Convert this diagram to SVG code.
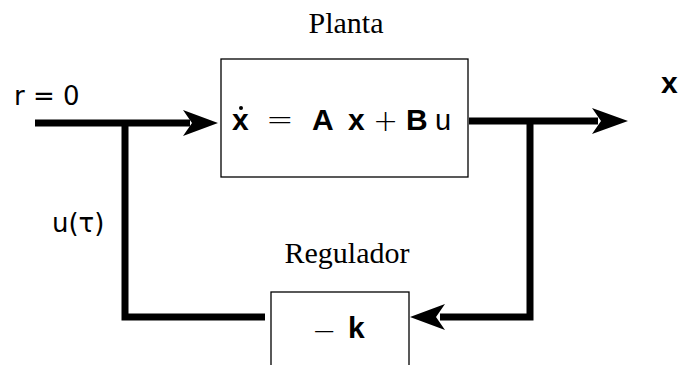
<svg xmlns="http://www.w3.org/2000/svg" width="678" height="365" viewBox="0 0 678 365">
<style>
.box{fill:#fff;stroke:#000;stroke-width:1.3}
.wire{fill:none;stroke:#000;stroke-width:7;stroke-linecap:butt;stroke-linejoin:miter}
.head{fill:#000}
.serif{font-family:"Liberation Serif","Times New Roman",serif;font-size:30px;fill:#000}
.sans{font-family:"DejaVu Sans",sans-serif;font-size:26px;fill:#000}
.bold{font-family:"Liberation Sans",Arial,sans-serif;font-weight:bold;font-size:30px;fill:#000}
.reg{font-family:"Liberation Sans",Arial,sans-serif;font-size:29px;fill:#000}
.math{font-family:"DejaVu Sans",sans-serif;font-weight:200;fill:#000}
</style>
<rect width="678" height="365" fill="#fff"/>
<g id="connectors">
<polyline class="wire" points="35,123 190,123"/>
<polyline class="wire" points="125,123 125,317 265,317"/>
<polyline class="wire" points="469,121 598,121"/>
<polyline class="wire" points="530,121 530,317 440,317"/>
<polygon class="head" points="218,123 183,110 192,123 183,136"/>
<polygon class="head" points="628,121 592,108 601,121 592,134"/>
<polygon class="head" points="410,317 445,304 436,317 445,330"/>
</g>
<g id="planta">
<rect class="box" x="221" y="59" width="247" height="118"/>
<text class="serif" x="346" y="33" text-anchor="middle">Planta</text>
<text class="bold" x="232" y="130">x</text>
<circle cx="241" cy="108" r="2" fill="#000"/>
<text class="math" x="266" y="131" font-size="33">=</text>
<text class="bold" x="312" y="130">A</text>
<text class="bold" x="348" y="130">x</text>
<text class="math" x="373" y="131" font-size="30">+</text>
<text class="bold" x="406" y="130">B</text>
<text class="reg" x="435" y="130">u</text>
</g>
<g id="regulador">
<rect class="box" x="271" y="292" width="138" height="90"/>
<text class="serif" x="347" y="263" text-anchor="middle">Regulador</text>
<text class="math" x="312" y="341" font-size="29">−</text>
<text class="bold" x="348" y="338">k</text>
</g>
<g id="labels">
<text class="sans" x="14" y="105">r = 0</text>
<text class="sans" x="52" y="232">u(τ)</text>
<text class="bold" x="661" y="93" font-size="31">x</text>
</g>
</svg>
